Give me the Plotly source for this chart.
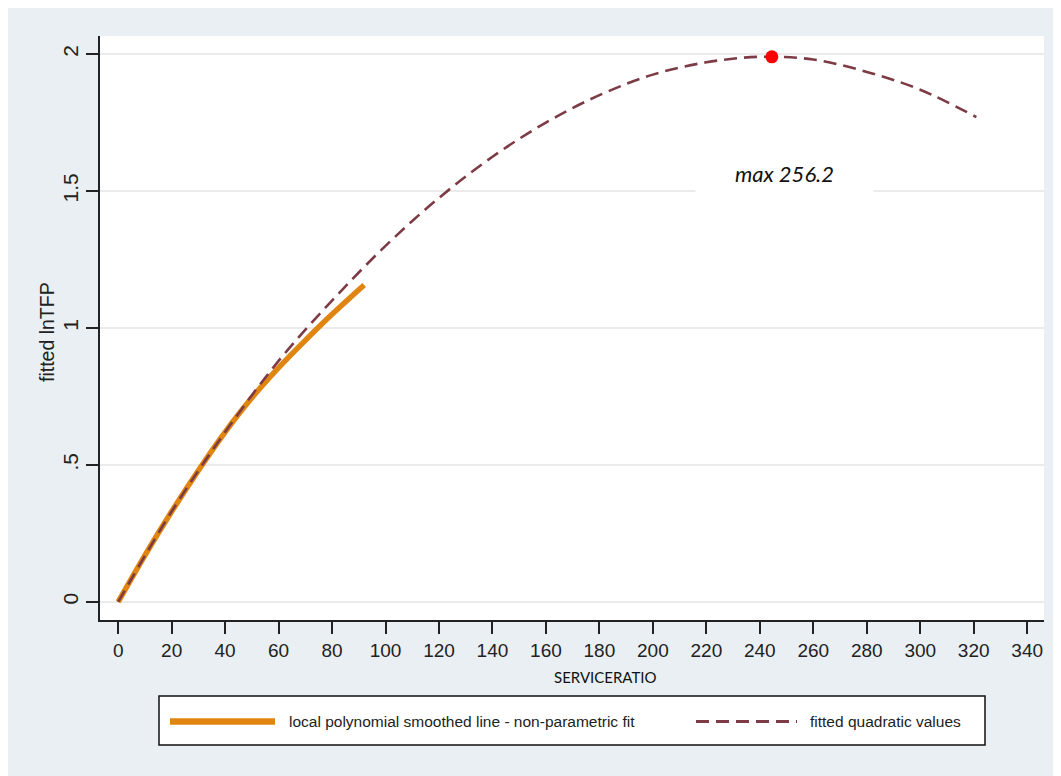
import plotly.graph_objects as go

# ---- data ----
quad_x = [0, 20, 40, 60, 80, 100, 120, 140, 160, 180, 200, 220, 240, 260, 280, 300, 321]
quad_y = [0.00, 0.33, 0.62, 0.88, 1.10, 1.30, 1.475, 1.625, 1.75, 1.85, 1.925, 1.97, 1.99, 1.98, 1.935, 1.87, 1.77]

lpoly_x = [0, 10, 20, 30, 40, 50, 60, 70, 80, 92]
lpoly_y = [0.00, 0.17, 0.33, 0.48, 0.62, 0.745, 0.855, 0.955, 1.05, 1.157]

max_x = [244.5]
max_y = [1.99]
max_label = "max 256.2"

x_ticks = list(range(0, 341, 20))
y_ticks = [0, 0.5, 1, 1.5, 2]
y_ticktext = ["0", ".5", "1", "1.5", "2"]

legend_names = ["local polynomial smoothed line - non-parametric fit", "fitted quadratic values"]

# ---- layout geometry (page pixels; the page body adds an 8px offset) ----
OFF = 8
W, H = 1061, 776
L, R, T, B = 100 - OFF, 1044 - OFF, 36 - OFF, 620 - OFF
PW, PH = R - L, B - T


def px(xp):
    return (xp - OFF - L) / PW


def py(yp):
    return (B - (yp - OFF)) / PH


ORANGE = "#e0850f"
MAROON = "#7d3b46"
FONT = "Liberation Sans, Arial, sans-serif"

fig = go.Figure()
fig.add_trace(go.Scatter(x=lpoly_x, y=lpoly_y, mode="lines", line=dict(color=ORANGE, width=5.5, shape="spline"),
                         name=legend_names[0], showlegend=False, hoverinfo="skip"))
fig.add_trace(go.Scatter(x=quad_x, y=quad_y, mode="lines", line=dict(color=MAROON, width=2.6, dash="13px,7px", shape="spline"),
                         name=legend_names[1], showlegend=False, hoverinfo="skip"))
fig.add_trace(go.Scatter(x=max_x, y=max_y, mode="markers", marker=dict(color="#ff0000", size=13),
                         showlegend=False, hoverinfo="skip", cliponaxis=False))

shapes = []
# legend box
shapes.append(dict(type="rect", xref="paper", yref="paper", x0=px(159), x1=px(985), y0=py(745), y1=py(696),
                   fillcolor="white", line=dict(color="#111111", width=1.5)))
shapes.append(dict(type="line", xref="paper", yref="paper", x0=px(170), x1=px(275), y0=py(721.5), y1=py(721.5),
                   line=dict(color=ORANGE, width=6.5)))
shapes.append(dict(type="line", xref="paper", yref="paper", x0=px(696), x1=px(797), y0=py(721.5), y1=py(721.5),
                   line=dict(color=MAROON, width=3, dash="13px,7px")))

annotations = [
    dict(x=249.4, y=1.566, xref="x", yref="y", text="<i>" + max_label + "</i>", showarrow=False,
         font=dict(family="Lato, sans-serif", size=22, color="#111111"), bgcolor="white", width=175, height=44,
         xanchor="center", yanchor="middle"),
    dict(x=px(605), y=py(677), xref="paper", yref="paper", text="SERVICERATIO", showarrow=False,
         font=dict(family="Lato, sans-serif", size=15, color="#111111"), xanchor="center", yanchor="middle"),
    dict(x=px(47), y=py(332), xref="paper", yref="paper", text="fitted lnTFP", showarrow=False, textangle=-90,
         font=dict(family=FONT, size=19.5, color="#222222"), xanchor="center", yanchor="middle"),
    dict(x=px(287), y=py(721.5), xref="paper", yref="paper", text=legend_names[0], showarrow=False,
         font=dict(family=FONT, size=15.5, color="#222222"), xanchor="left", yanchor="middle"),
    dict(x=px(808), y=py(721.5), xref="paper", yref="paper", text=legend_names[1], showarrow=False,
         font=dict(family=FONT, size=15.5, color="#222222"), xanchor="left", yanchor="middle"),
]

fig.update_layout(
    width=W, height=H,
    margin=dict(l=L, r=W - R, t=T, b=H - B, autoexpand=False),
    paper_bgcolor="#e9eff2", plot_bgcolor="white",
    shapes=shapes, annotations=annotations, showlegend=False,
    font=dict(family=FONT, color="#222222"),
)
fig.update_xaxes(range=[-6.8, 346.3], tickvals=x_ticks, ticktext=[str(v) for v in x_ticks],
                 ticks="outside", ticklen=12, tickwidth=1.5, tickcolor="#222222",
                 showline=True, linecolor="#222222", linewidth=2, showgrid=False, zeroline=False,
                 tickfont=dict(family=FONT, size=19, color="#222222"))
fig.update_yaxes(range=[-0.066, 2.066], tickvals=y_ticks, ticktext=y_ticktext, tickangle=-90,
                 ticks="outside", ticklen=12, tickwidth=1.5, tickcolor="#222222",
                 showline=True, linecolor="#222222", linewidth=2, showgrid=True, gridcolor="#ebebeb", gridwidth=2,
                 zeroline=False, tickfont=dict(family=FONT, size=21, color="#222222"))

fig.write_html("out.html")
